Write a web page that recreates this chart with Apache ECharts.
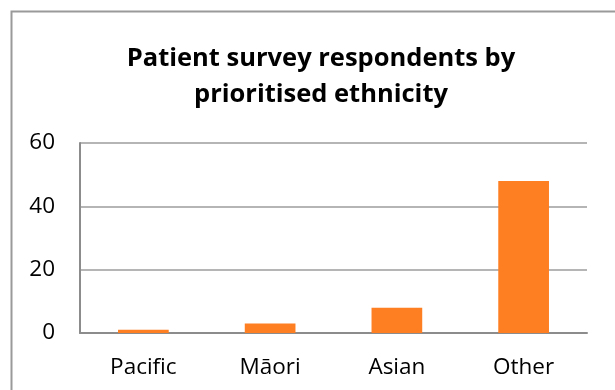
<!DOCTYPE html>
<html>
<head>
<meta charset="utf-8">
<script src="https://cdn.jsdelivr.net/npm/echarts@6/dist/echarts.min.js"></script>
<style>
  html, body { margin: 0; padding: 0; background: #fff; }
  #chart { width: 615px; height: 390px; }
</style>
</head>
<body>
<div id="chart"></div>
<script>
// Respondent counts by prioritised ethnicity
const categories = ['Pacific', 'Māori', 'Asian', 'Other'];
const respondents = [1, 3, 8, 48];
const yTicks = [0, 20, 40, 60];

const chart = echarts.init(document.getElementById('chart'), null, { renderer: 'canvas' });
const font = '"Open Sans", "Liberation Sans", sans-serif';

chart.setOption({
  animation: false,
  backgroundColor: '#ffffff',
  graphic: [{
    type: 'rect',
    shape: { x: 11.5, y: 11.5, width: 700, height: 500 },
    style: { fill: 'none', stroke: '#9a9a9a', lineWidth: 2 },
    silent: true
  }],
  title: {
    text: 'Patient survey respondents by\nprioritised ethnicity',
    left: 316,
    textAlign: 'center',
    top: 36,
    textStyle: {
      fontFamily: font,
      fontWeight: 'bold',
      fontSize: 25.5,
      lineHeight: 36,
      color: '#000'
    }
  },
  grid: { left: 80, right: 28, top: 143, bottom: 57, containLabel: false },
  xAxis: {
    type: 'category',
    data: categories,
    axisLine: { show: true, lineStyle: { color: '#8c8c8c', width: 2 } },
    axisTick: { show: false },
    axisLabel: { fontFamily: font, fontSize: 22.5, color: '#000', margin: 23 }
  },
  yAxis: {
    type: 'value',
    min: yTicks[0],
    max: yTicks[yTicks.length - 1],
    interval: 20,
    axisLine: { show: true, lineStyle: { color: '#8c8c8c', width: 2 } },
    axisTick: { show: false },
    splitLine: { lineStyle: { color: '#9c9c9c', width: 1.5 } },
    axisLabel: { fontFamily: font, fontSize: 22.5, color: '#000', margin: 25 }
  },
  series: [{
    type: 'bar',
    data: respondents,
    barCategoryGap: '60%',
    itemStyle: { color: '#fe7e22' }
  }]
});
</script>
</body>
</html>
